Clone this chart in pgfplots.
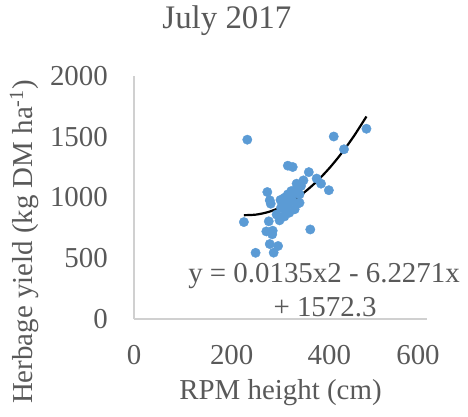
\documentclass[border=0pt]{standalone}
\usepackage{fontspec}
\setmainfont{Liberation Serif}
\usepackage{pgfplots}
\pgfplotsset{compat=1.18}
\definecolor{txtgray}{HTML}{595959}
\definecolor{axgray}{HTML}{D0D0D0}
\definecolor{ptblue}{HTML}{5B9BD5}
\begin{document}
\begin{tikzpicture}[x=1bp,y=1bp]
\useasboundingbox (0,0) rectangle (468,-416);
\begin{axis}[
  at={(134bp,-319bp)}, anchor=south west,
  scale only axis, width=293bp, height=243bp,
  xmin=0, xmax=600, ymin=0, ymax=2000,
  axis lines*=left,
  axis line style={axgray, line width=1.2bp},
  xtick={0,200,400,600},
  xticklabels={0,200,400,\hspace*{-18bp}600},
  ytick={0,500,1000,1500,2000},
  major tick length=0pt,
  /pgf/number format/assume math mode=true,
  /pgf/number format/1000 sep={},
  tick label style={font=\fontsize{29}{29}\selectfont, text=txtgray, inner sep=0pt},
  xticklabel style={anchor=center, yshift=-36bp},
  yticklabel style={anchor=east, xshift=-26bp},
  xlabel={RPM height (cm)},
  xlabel style={at={(axis description cs:0.5,0)}, anchor=center, yshift=-74bp,
    font=\fontsize{29}{29}\selectfont, text=txtgray, inner sep=0pt},
  ylabel={Herbage yield (kg DM ha\textsuperscript{-1})},
  ylabel style={at={(axis description cs:-0.375,0.317)}, anchor=center,
    font=\fontsize{29}{29}\selectfont, text=txtgray, inner sep=0pt},
  title={July 2017},
  title style={at={(axis description cs:0.317,1.204)}, anchor=center,
    font=\fontsize{33}{33}\selectfont, text=txtgray, inner sep=0pt},
  clip=false,
]
% measured samples
\addplot[only marks, mark=*, mark size=4.7bp, mark options={fill=ptblue, draw=ptblue}]
coordinates {
(232,1476) (409,1502) (476,1566) (430,1397) (315,1262) (325,1251)
(358,1209) (374,1156) (383,1114) (399,1060) (273,1045) (278,977)
(280,949) (225,798) (361,737) (249,545) (286,546) (278,617)
(295,601) (271,721) (284,727) (283,697) (276,804) (298,812)
(308,844) (310,889) (305,944) (308,998) (315,1026) (322,1053)
(332,1067) (333,1114) (342,1095) (347,1141) (339,957) (329,903)
(318,875) (301,916) (325,971) (315,944) (339,1026) (292,860)
(300,980) (320,1000) (330,1040) (336,951) (340,1095) (316,1012)
};
% second-order polynomial trend
\addplot[black, line width=2.2bp, smooth] coordinates {
(225,854.6) (250,859.3) (275,880.8) (300,919.2) (325,974.4) (350,1046.6)
(375,1135.6) (400,1241.5) (425,1364.2) (450,1503.9) (476,1667.0)
};
\end{axis}
\node[anchor=base, text=txtgray, inner sep=0pt, font=\fontsize{29}{29}\selectfont]
  at (324,-282) {y = 0.0135x2 - 6.2271x};
\node[anchor=base, text=txtgray, inner sep=0pt, font=\fontsize{29}{29}\selectfont]
  at (325,-316.5) {+ 1572.3};
\end{tikzpicture}
\end{document}
